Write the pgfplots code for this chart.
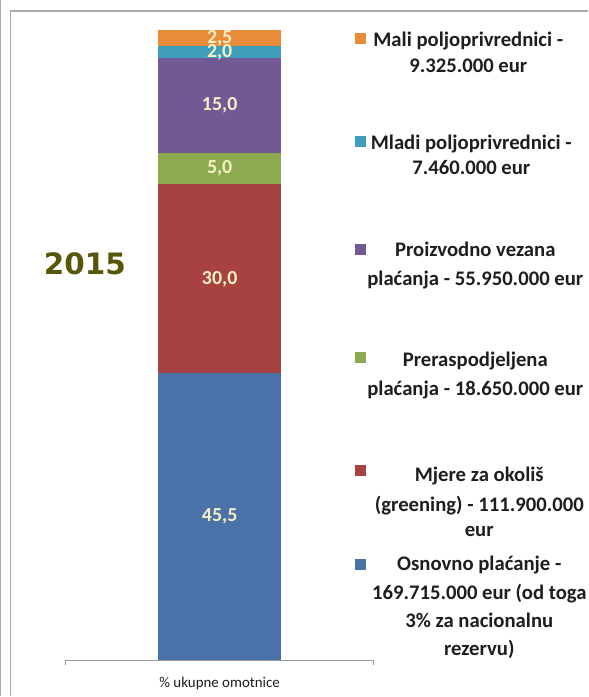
\documentclass[border=0pt]{standalone}
\usepackage{pgfplots}
\pgfplotsset{compat=1.18}
\usepackage{fontspec}
\setmainfont{Carlito}
\newfontfamily\verd{DejaVu Sans}

\definecolor{cBlue}{RGB}{74,114,168}
\definecolor{cRed}{RGB}{168,66,64}
\definecolor{cGreen}{RGB}{140,170,80}
\definecolor{cPurple}{RGB}{115,88,150}
\definecolor{cAqua}{RGB}{62,158,188}
\definecolor{cOrange}{RGB}{233,140,58}
\definecolor{lblCol}{RGB}{245,240,195}
\definecolor{yearCol}{RGB}{88,86,8}
\definecolor{txtCol}{RGB}{30,30,30}
\definecolor{frameCol}{RGB}{170,170,170}

% one legend line, centred at (x, baseline y) in pixel units from the top
\newcommand{\legline}[3]{\node[anchor=base, inner sep=0pt, text=txtCol,
  font=\bfseries\fontsize{10.4}{12}\selectfont] at (#1,#2) {#3};}
\newcommand{\legbox}[2]{\fill[#1] (355.5,#2-5.5) rectangle (366.5,#2+5.5);}

\begin{document}
\begin{tikzpicture}
  \begin{scope}[x=0.5bp, y=-0.5bp]
    \useasboundingbox (0,0) rectangle (589,697);
    \fill[white] (0,0) rectangle (589,697);
    % outer frame
    \draw[frameCol, line width=0.5bp] (0.5,0) -- (0.5,697);
    \draw[frameCol, line width=0.8bp] (10.5,697) -- (10.5,11) -- (589,11);
  \end{scope}

  \begin{axis}[
      at={(33bp,-330.5bp)}, anchor=south west,
      scale only axis, width=154bp, height=315.5bp,
      xmin=0, xmax=1, ymin=0, ymax=100,
      ybar stacked, bar width=61.5bp,
      axis y line=none, axis x line*=bottom,
      x axis line style={draw=gray!80, line width=0.5bp},
      xtick={0,1}, xticklabels={,},
      tick align=outside, major tick length=2.5bp,
      tick style={draw=gray!80, line width=0.5bp},
      ytick=\empty, clip=false,
      xlabel={\% ukupne omotnice},
      every axis x label/.style={at={(axis description cs:0.5,0)}, anchor=base,
        yshift=-14bp, font=\fontsize{7.5}{9}\selectfont, text=txtCol},
      point meta=explicit,
      nodes near coords={\pgfmathprintnumber[fixed, fixed zerofill, precision=1,
        use comma, assume math mode=true]{\pgfplotspointmeta}},
      every node near coord/.append style={anchor=center, text=lblCol,
        font=\bfseries\fontsize{10}{12}\selectfont},
    ]
    \addplot[fill=cBlue, draw=none] coordinates {(0.5,45.5) [45.5]};
    \addplot[fill=cRed, draw=none] coordinates {(0.5,30.0) [30.0]};
    \addplot[fill=cGreen, draw=none] coordinates {(0.5,5.0) [5.0]};
    \addplot[fill=cPurple, draw=none] coordinates {(0.5,15.0) [15.0]};
    \addplot[fill=cAqua, draw=none] coordinates {(0.5,2.0) [2.0]};
    \addplot[fill=cOrange, draw=none] coordinates {(0.5,2.5) [2.5]};
  \end{axis}

  \begin{scope}[x=0.5bp, y=-0.5bp]
    % year
    \node[anchor=base, inner sep=0pt, text=yearCol,
      font=\verd\bfseries\fontsize{14.8}{16}\selectfont] at (85,275) {2015};

    % legend
    \legbox{cOrange}{39}
    \legline{469}{46.5}{Mali poljoprivrednici -}
    \legline{469}{72.5}{9.325.000 eur}
    \legbox{cAqua}{142}
    \legline{472}{149.5}{Mladi poljoprivrednici -}
    \legline{472}{174.5}{7.460.000 eur}
    \legbox{cPurple}{250}
    \legline{476}{256.5}{Proizvodno vezana}
    \legline{476}{285.5}{plaćanja - 55.950.000 eur}
    \legbox{cGreen}{358}
    \legline{476}{367.5}{Preraspodjeljena}
    \legline{476}{396.5}{plaćanja - 18.650.000 eur}
    \legbox{cRed}{471}
    \legline{480}{482.5}{Mjere za okoliš}
    \legline{480}{512.5}{(greening) - 111.900.000}
    \legline{480}{537.5}{eur}
    \legbox{cBlue}{565}
    \legline{480}{571.5}{Osnovno plaćanje -}
    \legline{480}{600.5}{169.715.000 eur (od toga}
    \legline{480}{628.5}{3\% za nacionalnu}
    \legline{480}{656.5}{rezervu)}
  \end{scope}
\end{tikzpicture}
\end{document}
